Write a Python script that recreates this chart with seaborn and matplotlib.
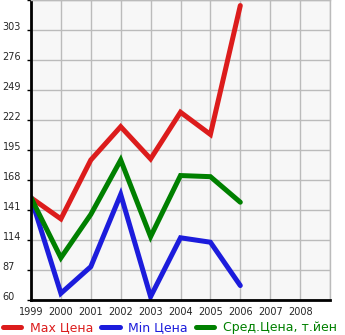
import matplotlib
matplotlib.use("Agg")
import matplotlib.pyplot as plt
import seaborn as sns
import pandas as pd
from matplotlib.lines import Line2D

years = [1999, 2000, 2001, 2002, 2003, 2004, 2005, 2006]
max_price = [152, 133, 186, 216, 187, 229, 209, 325]
min_price = [152, 66, 90, 155, 63, 116, 112, 73]
avg_price = [152, 98, 137, 186, 117, 172, 171, 148]
series_names = ["Max Цена", "Min Цена", "Сред.Цена, т.йен"]
x_ticks = [1999, 2000, 2001, 2002, 2003, 2004, 2005, 2006, 2007, 2008, 2009]
x_labels = ["1999", "2000", "2001", "2002", "2003", "2004", "2005", "2006", "2007", "2008", ""]
y_ticks = [60, 87, 114, 141, 168, 195, 222, 249, 276, 303, 330]
y_labels = ["60", "87", "114", "141", "168", "195", "222", "249", "276", "303", ""]

colors = ["#dc1c1c", "#1c1cdc", "#008000"]

df = pd.DataFrame({
    "year": years * 3,
    "value": max_price + min_price + avg_price,
    "series": [series_names[0]] * len(years) + [series_names[1]] * len(years) + [series_names[2]] * len(years),
})

sns.set_style("white")
plt.rcParams['font.family'] = ['DejaVu Sans']

fig = plt.figure(figsize=(3.45, 3.35), dpi=100)
ax = fig.add_axes([31 / 345, 35 / 335, 299 / 345, 300 / 335])
ax.set_facecolor("#f7f7f7")

sns.lineplot(data=df, x="year", y="value", hue="series", palette=colors,
             hue_order=series_names, linewidth=3.6, ax=ax, legend=False,
             solid_capstyle="round", solid_joinstyle="miter")

ax.set_xlim(1999, 2009)
ax.set_ylim(60, 330)
ax.set_xticks(x_ticks)
ax.set_xticklabels(x_labels, fontsize=7)
ax.set_yticks(y_ticks)
ax.set_yticklabels(y_labels, fontsize=7)
ax.grid(True, color="#bbbbbb", linewidth=1)
ax.set_axisbelow(True)
ax.set_xlabel("")
ax.set_ylabel("")

for s in ["top", "right"]:
    ax.spines[s].set_color("#bbbbbb")
    ax.spines[s].set_linewidth(1)
for s in ["left", "bottom"]:
    ax.spines[s].set_color("black")
    ax.spines[s].set_linewidth(2)

ax.tick_params(axis="y", length=3, width=1, color="black", pad=17.5, left=True)
ax.tick_params(axis="x", length=0, pad=5)
for lab in ax.get_yticklabels():
    lab.set_horizontalalignment("left")
    lab.set_verticalalignment("baseline")

handles = [Line2D([0], [0], color=c, linewidth=3.6, solid_capstyle="round") for c in colors]
leg = fig.legend(handles, series_names, loc="center left", bbox_to_anchor=(3 / 345, 7.5 / 335),
                 ncol=3, frameon=False, fontsize=9, handlelength=1.45, handletextpad=0.7,
                 columnspacing=0.65, borderpad=0, borderaxespad=0)
for t, c in zip(leg.get_texts(), colors):
    t.set_color(c)

fig.savefig("out.png", dpi=100)
